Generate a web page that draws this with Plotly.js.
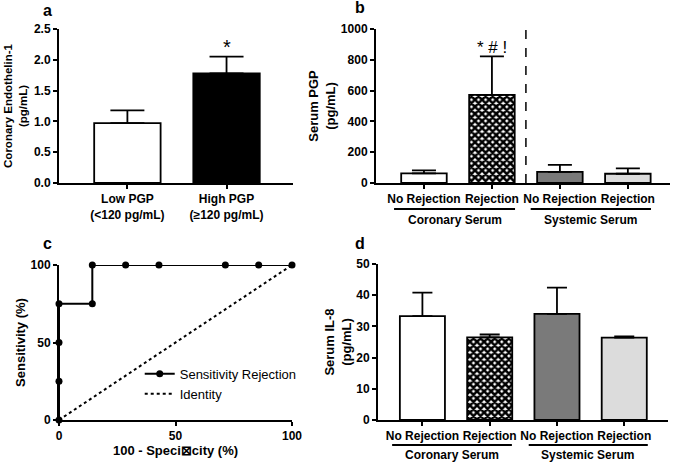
<!DOCTYPE html>
<html>
<head>
<meta charset="utf-8">
<script src="https://cdn.plot.ly/plotly-3.0.1.min.js"></script>
<style>
  html, body { margin: 0; padding: 0; background: #fff; }
  #chart { width: 675px; height: 463px; }
</style>
</head>
<body>
<div id="chart"></div>
<script>
// panel a - coronary endothelin-1
const aLabels = ['Low PGP<br>(<120 pg/mL)', 'High PGP<br>(≥120 pg/mL)'];
const aMeans = [0.97, 1.78];
const aErr = [0.21, 0.27];

// panel b - serum PGP
const groupLabels = ['No Rejection', 'Rejection', 'No Rejection', 'Rejection'];
const bMeans = [62, 572, 72, 60];
const bErr = [20, 250, 45, 35];

// panel c - ROC curve
const rocX = [0, 0, 0, 0, 14.3, 14.3, 28.6, 42.9, 71.4, 85.7, 100];
const rocY = [0, 25, 50, 75, 75, 100, 100, 100, 100, 100, 100];
const identX = [0, 100];
const identY = [0, 100];

// panel d - serum IL-8
const dMeans = [33.3, 26.5, 34.0, 26.4];
const dErr = [7.5, 0.9, 8.4, 0.4];

// second bar (rejection, coronary) is dark cross-hatch
const barColors = ['#ffffff', '#000000', '#7a7a7a', '#dcdcdc'];
const barPatterns = ['', 'x', '', ''];
const FONT = 'Liberation Sans, Arial, Helvetica, sans-serif';

function barTrace(vals, errs, xa, ya, colors, patterns, capw) {
    return {
        type: 'bar',
        x: vals.map((v, i) => i + 1),
        y: vals,
        xaxis: xa, yaxis: ya,
        width: 0.67,
        showlegend: false,
        hoverinfo: 'skip',
        marker: {
            color: colors,
            line: { color: '#000', width: 1.8 },
            pattern: {
                shape: patterns,
                fgcolor: '#000000',
                bgcolor: '#ffffff',
                size: 5,
                solidity: 0.75
            }
        },
        error_y: {
            type: 'data', symmetric: false,
            array: errs, arrayminus: vals.map(() => 0),
            color: '#000', thickness: 1.8, width: capw
        }
    };
}

const traces = [
    barTrace(aMeans, aErr, 'x', 'y', ['#ffffff', '#000000'], ['', ''], 17),
    barTrace(bMeans, bErr, 'x2', 'y2', barColors, barPatterns, 12),
    {
        type: 'scatter', mode: 'lines+markers',
        x: rocX, y: rocY, xaxis: 'x3', yaxis: 'y3',
        name: 'Sensitivity Rejection',
        line: { color: '#000', width: 2 },
        marker: { color: '#000', size: 7 },
        cliponaxis: false
    },
    {
        type: 'scatter', mode: 'lines',
        x: identX, y: identY, xaxis: 'x3', yaxis: 'y3',
        name: 'Identity',
        line: { color: '#000', width: 2, dash: 'dot' }
    },
    barTrace(dMeans, dErr, 'x4', 'y4', barColors, barPatterns, 10)
];

const axBase = {
    showline: true, linecolor: '#000', linewidth: 2,
    ticks: 'outside', ticklen: 4, tickwidth: 2, tickcolor: '#000',
    showgrid: false, zeroline: false, fixedrange: true,
    tickfont: { family: FONT, size: 12, color: '#000', weight: 'bold' }
};
function tf(size) {
    return { family: FONT, size: size, color: '#000', weight: 'bold' };
}

const catTicks = { tickvals: [1, 2, 3, 4], ticktext: groupLabels };

const layout = {
    width: 675, height: 463,
    margin: { l: 0, r: 0, t: 0, b: 0 },
    paper_bgcolor: '#fff', plot_bgcolor: 'rgba(0,0,0,0)',
    font: { family: FONT, color: '#000' },
    bargap: 0,
    xaxis: Object.assign({}, axBase, {
        domain: [0.0874, 0.434], anchor: 'y', range: [0.31, 2.67],
        tickvals: [1, 2], ticktext: aLabels
    }),
    yaxis: Object.assign({}, axBase, {
        domain: [0.6048, 0.9374], anchor: 'x', range: [0, 2.5],
        dtick: 0.5, tickformat: '.1f',
        title: { text: 'Coronary Endothelin-1<br>(pg/mL)', font: tf(11.5), standoff: 4 }
    }),
    xaxis2: Object.assign({}, axBase, catTicks, {
        domain: [0.557, 0.9926], anchor: 'y2', range: [0.294, 4.62]
    }),
    yaxis2: Object.assign({}, axBase, {
        domain: [0.6048, 0.9374], anchor: 'x2', range: [0, 1000], dtick: 200,
        title: { text: 'Serum PGP<br>(pg/mL)', font: tf(13), standoff: 2 }
    }),
    xaxis3: Object.assign({}, axBase, {
        domain: [0.0874, 0.4326], anchor: 'y3', range: [0, 100], dtick: 50,
        title: { text: '100 - Speci⊠city (%)', font: tf(13), standoff: 3 }
    }),
    yaxis3: Object.assign({}, axBase, {
        domain: [0.0929, 0.4276], anchor: 'x3', range: [0, 100], dtick: 50,
        title: { text: 'Sensitivity (%)', font: tf(13), standoff: 2 }
    }),
    xaxis4: Object.assign({}, axBase, catTicks, {
        domain: [0.56, 0.9896], anchor: 'y4', range: [0.34, 4.65]
    }),
    yaxis4: Object.assign({}, axBase, {
        domain: [0.0929, 0.4298], anchor: 'x4', range: [0, 50], dtick: 10,
        title: { text: 'Serum IL-8<br>(pg/mL)', font: tf(13), standoff: 2 }
    }),
    legend: {
        x: 0.207, y: 0.225, xanchor: 'left', yanchor: 'top',
        bgcolor: 'rgba(0,0,0,0)',
        font: { family: FONT, size: 13, color: '#000' },
        itemwidth: 30, tracegroupgap: 4
    },
    shapes: [
        // divider between coronary and systemic in b
        { type: 'line', xref: 'x2', yref: 'y2', x0: 2.5, x1: 2.5, y0: 0, y1: 1000,
          line: { color: '#000', width: 1.5, dash: 'dash' } },
        // group underlines
        { type: 'line', xref: 'x2', yref: 'paper', x0: 0.56, x1: 2.34, y0: 0.5486, y1: 0.5486,
          line: { color: '#000', width: 2 } },
        { type: 'line', xref: 'x2', yref: 'paper', x0: 2.57, x1: 4.34, y0: 0.5486, y1: 0.5486,
          line: { color: '#000', width: 2 } },
        { type: 'line', xref: 'x4', yref: 'paper', x0: 0.55, x1: 2.33, y0: 0.0389, y1: 0.0389,
          line: { color: '#000', width: 2 } },
        { type: 'line', xref: 'x4', yref: 'paper', x0: 2.58, x1: 4.35, y0: 0.0389, y1: 0.0389,
          line: { color: '#000', width: 2 } }
    ],
    annotations: [
        { text: 'a', x: 0.071, y: 0.978 },
        { text: 'b', x: 0.533, y: 0.983 },
        { text: 'c', x: 0.07, y: 0.475 },
        { text: 'd', x: 0.533, y: 0.475 }
    ].map(a => Object.assign(a, {
        xref: 'paper', yref: 'paper', xanchor: 'center', yanchor: 'middle',
        showarrow: false, font: tf(16)
    })).concat([
        { text: '*', xref: 'x', yref: 'y', x: 2, y: 2.2, showarrow: false, font: { size: 20 } },
        { text: '* # !', xref: 'x2', yref: 'y2', x: 2, y: 880, showarrow: false, font: { size: 17 } },
        { text: 'Coronary Serum', xref: 'x2', yref: 'paper', x: 1.45, y: 0.525 },
        { text: 'Systemic Serum', xref: 'x2', yref: 'paper', x: 3.45, y: 0.525 },
        { text: 'Coronary Serum', xref: 'x4', yref: 'paper', x: 1.44, y: 0.017 },
        { text: 'Systemic Serum', xref: 'x4', yref: 'paper', x: 3.46, y: 0.017 }
    ].map(a => Object.assign({ xanchor: 'center', yanchor: 'middle', showarrow: false, font: tf(12) }, a)))
};

Plotly.newPlot('chart', traces, layout, { displayModeBar: false, staticPlot: true });
</script>
</body>
</html>
